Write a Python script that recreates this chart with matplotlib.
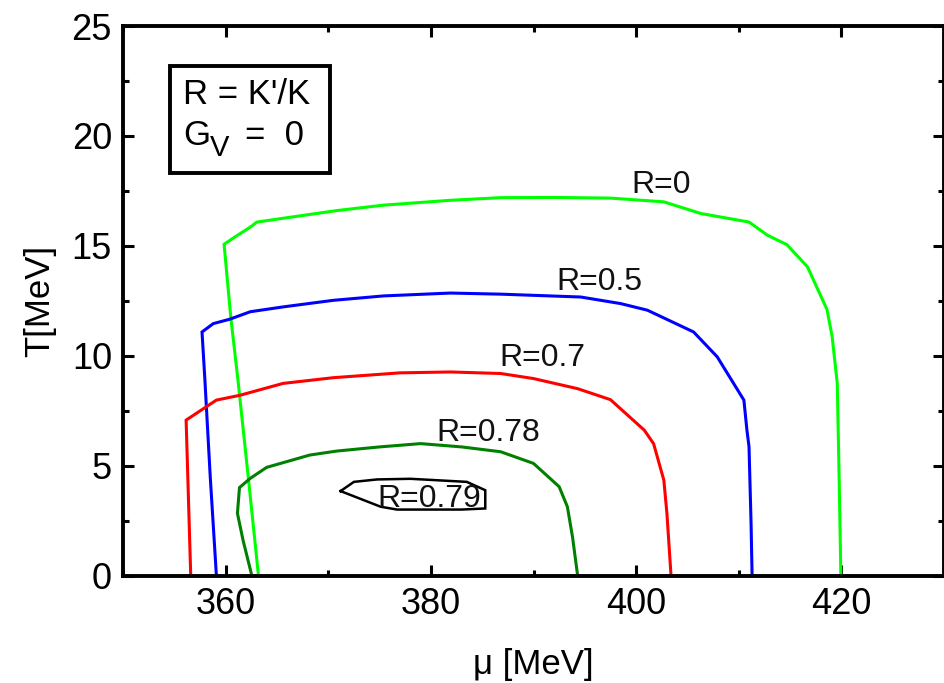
import matplotlib
matplotlib.use("Agg")
import matplotlib.pyplot as plt
from matplotlib.ticker import MultipleLocator
from matplotlib.patches import Rectangle

plt.rcParams['font.family'] = ['Liberation Sans', 'DejaVu Sans']

# Phase boundaries in the (mu, T) plane for several R = K'/K
mu_r0 = [363.2, 362.2, 361.2, 360.5, 359.85, 360.9, 362.4, 363.05, 366.3, 370.8, 375.4,
         381.9, 386.8, 392.0, 397.5, 402.7, 406.3, 411.0, 412.8, 414.7, 416.7, 418.6,
         419.1, 419.6, 419.8, 419.95]
T_r0 = [0.0, 4.5, 8.9, 11.76, 15.07, 15.4, 15.85, 16.08, 16.3, 16.6, 16.85,
        17.07, 17.19, 17.2, 17.17, 17.0, 16.47, 16.08, 15.48, 15.05, 14.04, 12.1,
        10.87, 8.74, 4.0, 0.0]

mu_r05 = [359.1, 358.5, 357.98, 357.7, 358.8, 360.4, 362.4, 365.6, 370.5, 375.4, 381.9,
          386.8, 394.6, 398.5, 401.1, 405.6, 407.9, 410.5, 410.8, 411.0, 411.2, 411.3]
T_r05 = [0.0, 4.5, 8.9, 11.08, 11.46, 11.66, 12.0, 12.22, 12.52, 12.72, 12.85,
         12.8, 12.67, 12.37, 12.07, 11.08, 9.95, 7.98, 6.6, 5.86, 2.37, 0.0]

mu_r07 = [356.6, 356.15, 359.1, 361.4, 365.6, 370.5, 377.0, 381.9, 386.8, 390.0, 394.3,
          397.5, 400.8, 401.7, 402.7, 403.0, 403.4]
T_r07 = [0.0, 7.07, 7.98, 8.2, 8.74, 9.0, 9.22, 9.26, 9.19, 8.96, 8.5,
         8.0, 6.61, 6.0, 4.34, 2.83, 0.0]

mu_r078 = [362.55, 361.7, 361.15, 361.35, 362.4, 364.0, 368.2, 370.8, 375.0, 379.0, 383.0,
           386.8, 390.0, 392.5, 393.3, 393.8, 394.3]
T_r078 = [0.0, 1.6, 2.83, 4.0, 4.42, 4.92, 5.48, 5.66, 5.85, 6.0, 5.85,
          5.63, 5.1, 4.04, 3.13, 1.76, 0.0]

mu_r079 = [371.2, 372.5, 374.75, 378.0, 383.5, 385.3, 385.3, 383.0, 376.7, 375.1, 371.2]
T_r079 = [3.84, 4.26, 4.37, 4.4, 4.26, 3.88, 3.05, 3.0, 3.0, 3.13, 3.84]

curves = [
    (mu_r0, T_r0, '#00ff00', 'R=0', 402.4, 17.4),
    (mu_r05, T_r05, '#0000ff', 'R=0.5', 396.4, 13.0),
    (mu_r07, T_r07, '#ff0000', 'R=0.7', 390.9, 9.52),
    (mu_r078, T_r078, '#008000', 'R=0.78', 385.6, 6.13),
    (mu_r079, T_r079, '#000000', 'R=0.79', 379.85, 3.13),
]

x_ticks = [360, 380, 400, 420]
y_ticks = [0, 5, 10, 15, 20, 25]

fig = plt.figure(figsize=(9.45, 6.83), dpi=100)
ax = fig.add_axes([123 / 945, 107.5 / 683, 821 / 945, 549.5 / 683])

for mu, T, col, lab, lx, ly in curves:
    lw = 1.8 if col == '#000000' else 2.2
    ax.plot(mu, T, color=col, lw=lw, solid_joinstyle='miter')
    ax.text(lx, ly, lab, fontsize=23, ha='center', va='baseline', color='#111111')

ax.set_xlim(350, 430)
ax.set_ylim(0, 25)
ax.set_xticks(x_ticks)
ax.set_yticks(y_ticks)
ax.xaxis.set_minor_locator(MultipleLocator(10))
ax.yaxis.set_minor_locator(MultipleLocator(2.5))
ax.tick_params(which='both', direction='in', top=True, right=True, width=2.2)
ax.tick_params(which='major', length=8, labelsize=26, pad=8)
ax.tick_params(which='minor', length=4.5)
for s in ax.spines.values():
    s.set_linewidth(2.8)

ax.set_xlabel('\u03bc [MeV]', fontsize=25, labelpad=19)
ax.set_ylabel('T[MeV]', fontsize=25, labelpad=11)

# Parameter box
ax.add_patch(Rectangle((0.0572, 0.7325), 0.195, 0.1945, transform=ax.transAxes,
                       fill=False, lw=2.8, ec='black', zorder=5))
ax.text(183 / 945, 1 - 104 / 683, "R = K'/K", transform=fig.transFigure,
        fontsize=25, ha='left', va='baseline')
ax.text(183 / 945, 1 - 145 / 683, "G", transform=fig.transFigure,
        fontsize=25, ha='left', va='baseline')
ax.text(210 / 945, 1 - 156 / 683, "V", transform=fig.transFigure,
        fontsize=21, ha='left', va='baseline')
ax.text(245 / 945, 1 - 145 / 683, "=  0", transform=fig.transFigure,
        fontsize=25, ha='left', va='baseline')

fig.savefig('out.png', dpi=100)
